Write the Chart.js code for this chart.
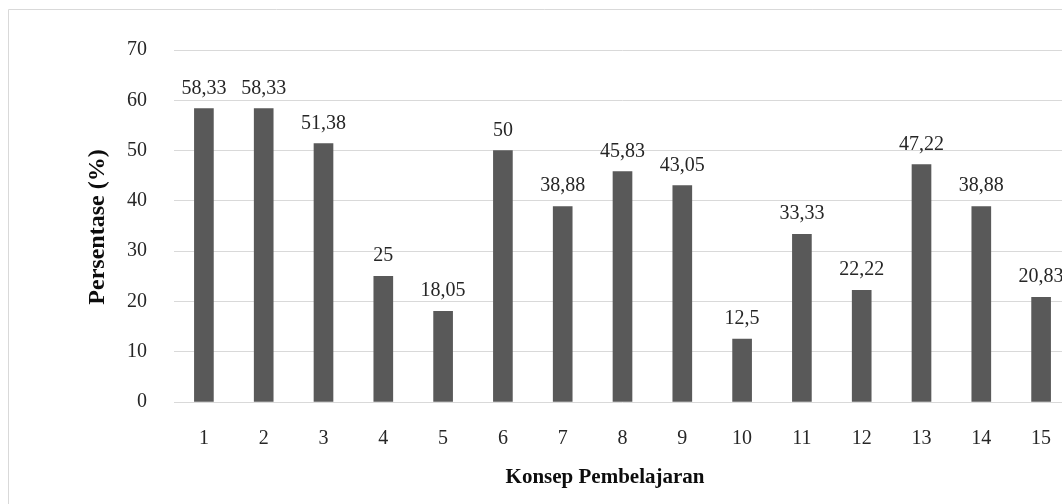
<!DOCTYPE html>
<html>
<head>
    <title>Konsep Pembelajaran</title>
    <script src="https://cdn.jsdelivr.net/npm/chart.js"></script>
    <style>
        body { margin: 0; overflow: hidden; background: #fff; }
        #wrap { width: 1080px; height: 504px; }
    </style>
</head>
<body>
    <div id="wrap"><canvas id="konsepChart" width="1080" height="504"></canvas></div>
    <script>
        var categories = ['1', '2', '3', '4', '5', '6', '7', '8', '9', '10', '11', '12', '13', '14', '15'];
        var persentase = [58.33, 58.33, 51.38, 25, 18.05, 50, 38.88, 45.83, 43.05, 12.5, 33.33, 22.22, 47.22, 38.88, 20.83];
        var yTitle = 'Persentase (%)';
        var xTitle = 'Konsep Pembelajaran';

        var serif = '"Liberation Serif", "Times New Roman", serif';
        var textColor = '#262626';

        // value labels above bars, comma as decimal separator
        var valueLabels = {
            id: 'valueLabels',
            afterDatasetsDraw: function (chart) {
                var ctx = chart.ctx;
                var meta = chart.getDatasetMeta(0);
                ctx.save();
                ctx.font = '20px ' + serif;
                ctx.fillStyle = textColor;
                ctx.textAlign = 'center';
                ctx.textBaseline = 'alphabetic';
                meta.data.forEach(function (bar, i) {
                    var txt = String(persentase[i]).replace('.', ',');
                    ctx.fillText(txt, bar.x, bar.y - 15);
                });
                ctx.restore();
            }
        };

        // outer frame and axis titles
        var frame = {
            id: 'frame',
            beforeDraw: function (chart) {
                var ctx = chart.ctx;
                ctx.save();
                ctx.strokeStyle = '#d9d9d9';
                ctx.lineWidth = 1;
                ctx.beginPath();
                ctx.moveTo(8.5, 504);
                ctx.lineTo(8.5, 9.5);
                ctx.lineTo(1080, 9.5);
                ctx.stroke();
                ctx.restore();
            },
            afterDraw: function (chart) {
                var ctx = chart.ctx;
                ctx.save();
                ctx.fillStyle = '#0d0d0d';
                ctx.textAlign = 'center';
                ctx.textBaseline = 'middle';
                ctx.font = 'bold 21px ' + serif;
                ctx.fillText(xTitle, 605, 478);
                ctx.translate(98, 227);
                ctx.rotate(-Math.PI / 2);
                ctx.font = 'bold 24px ' + serif;
                ctx.fillText(yTitle, 0, 0);
                ctx.restore();
            }
        };

        var ctx = document.getElementById('konsepChart').getContext('2d');
        var konsepChart = new Chart(ctx, {
            type: 'bar',
            data: {
                labels: categories,
                datasets: [{
                    label: yTitle,
                    data: persentase,
                    backgroundColor: '#595959',
                    borderWidth: 0,
                    barThickness: 19
                }]
            },
            options: {
                responsive: false,
                animation: false,
                layout: { padding: { top: 50, right: 9, left: 0, bottom: 0 } },
                plugins: {
                    legend: { display: false },
                    tooltip: { enabled: false }
                },
                scales: {
                    x: {
                        grid: { display: false, drawTicks: false },
                        border: { display: false },
                        ticks: {
                            color: textColor,
                            font: { family: serif, size: 20 },
                            padding: 25,
                            maxRotation: 0
                        },
                        afterFit: function (scale) { scale.height = 102; }
                    },
                    y: {
                        min: 0,
                        max: 70,
                        grid: { color: '#d9d9d9', lineWidth: 1, drawTicks: false },
                        border: { display: false },
                        ticks: {
                            stepSize: 10,
                            color: textColor,
                            font: { family: serif, size: 20 },
                            padding: 27
                        },
                        afterFit: function (scale) { scale.width = 174; }
                    }
                }
            },
            plugins: [valueLabels, frame]
        });
    </script>
</body>
</html>
